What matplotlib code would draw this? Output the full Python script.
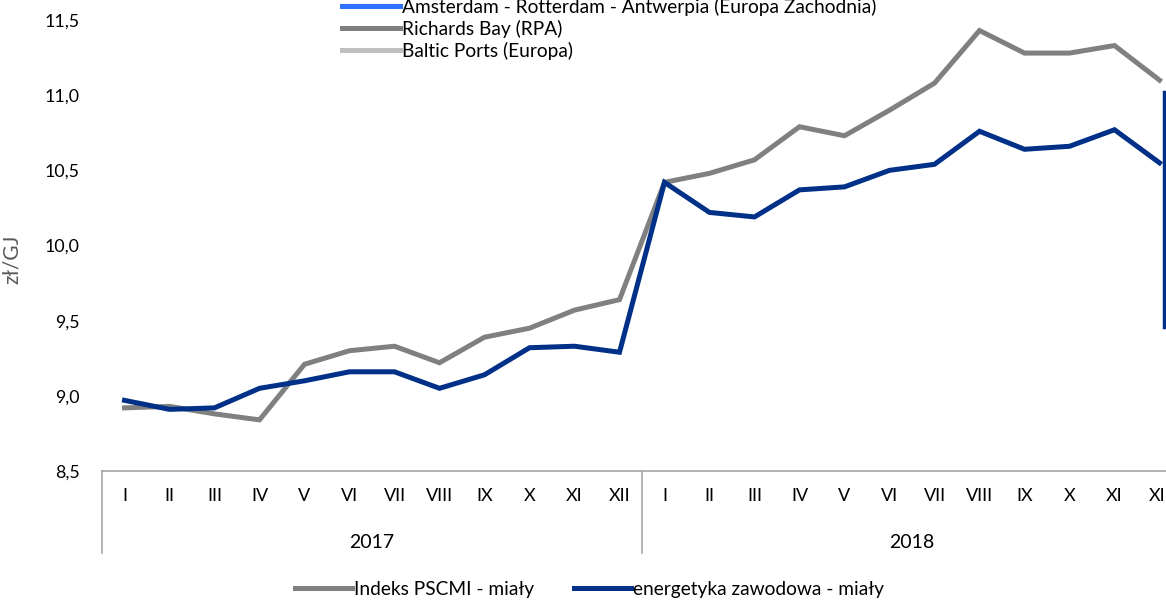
import matplotlib
matplotlib.use("Agg")
import matplotlib.pyplot as plt
from matplotlib.lines import Line2D

# data
months = ["I", "II", "III", "IV", "V", "VI", "VII", "VIII", "IX", "X", "XI", "XII"]
years = ["2017", "2018"]
pscmi = [8.92, 8.93, 8.88, 8.84, 9.21, 9.30, 9.33, 9.22, 9.39, 9.45, 9.57, 9.64,
         10.42, 10.48, 10.57, 10.79, 10.73, 10.90, 11.08, 11.43, 11.28, 11.28, 11.33, 11.10]
energetyka = [8.97, 8.91, 8.92, 9.05, 9.10, 9.16, 9.16, 9.05, 9.14, 9.32, 9.33, 9.29,
              10.42, 10.22, 10.19, 10.37, 10.39, 10.50, 10.54, 10.76, 10.64, 10.66, 10.77, 10.55]
yticks = [8.5, 9.0, 9.5, 10.0, 10.5, 11.0, 11.5]
top_legend = ["Amsterdam - Rotterdam - Antwerpia (Europa Zachodnia)",
              "Richards Bay (RPA)", "Baltic Ports (Europa)"]
top_colors = ["#2f74ff", "#7f7f7f", "#c0c0c0"]

GRAY = "#808080"
NAVY = "#003087"
AXC = "#a6a6a6"

plt.rcParams["font.family"] = ["Lato", "DejaVu Sans"]
plt.rcParams["font.size"] = 13

W, H = 1166, 602
fig = plt.figure(figsize=(W / 100, H / 100), dpi=100)
ax = fig.add_axes([102 / W, 131 / H, 1080 / W, 451 / H])

x = list(range(len(pscmi)))
l1, = ax.plot(x, pscmi, color=GRAY, lw=3.6, solid_joinstyle="miter", label="Indeks PSCMI - miały")
l2, = ax.plot(x, energetyka, color=NAVY, lw=3.6, solid_joinstyle="miter", label="energetyka zawodowa - miały")

ax.set_xlim(-0.5, len(x) - 0.5)
ax.set_ylim(8.5, 11.5)
ax.set_yticks(yticks)
ax.set_yticklabels([f"{v:.1f}".replace(".", ",") for v in yticks], fontsize=12.8)
ax.tick_params(axis="y", length=0, pad=16)

ax.set_xticks(x)
ax.set_xticklabels(months * len(years), fontsize=13)
ax.tick_params(axis="x", length=0, pad=12)

for s in ["left", "right", "top"]:
    ax.spines[s].set_visible(False)
ax.spines["bottom"].set_color(AXC)
ax.spines["bottom"].set_linewidth(1.2)

# year groups below month labels
tr = ax.get_xaxis_transform()
for i, yr in enumerate(years):
    ax.plot([i * 12 - 0.5] * 2, [0, -82 / 451], color=AXC, lw=1.2, transform=tr, clip_on=False)
    ax.text(i * 12 + 5.5, -71 / 451, yr, transform=tr, ha="center", va="center", fontsize=14)

ax.set_ylabel("zł/GJ", color="#595959", fontsize=15)
ax.yaxis.set_label_coords(-0.074, 0.47)

# leftover legend at top
handles = [Line2D([], [], color=c, lw=3.6) for c in top_colors]
fig.legend(handles, top_legend, loc="upper left", bbox_to_anchor=(342 / W, (H + 2) / H),
           frameon=False, borderpad=0, borderaxespad=0, handlelength=3.0, fontsize=13.8,
           handletextpad=0.12, labelspacing=0.2)

# bottom legend
fig.legend([l1, l2], [l1.get_label(), l2.get_label()], loc="center left",
           bbox_to_anchor=(295 / W, 13 / H), ncol=2, frameon=False, borderpad=0, fontsize=13.8,
           borderaxespad=0, handlelength=2.95, handletextpad=0.12, columnspacing=2.1)

# stray vertical line at right edge
fig.add_artist(Line2D([1164 / W] * 2, [(H - 92) / H, (H - 327) / H], color=NAVY, lw=2.5))

fig.savefig("out.png", dpi=100)
